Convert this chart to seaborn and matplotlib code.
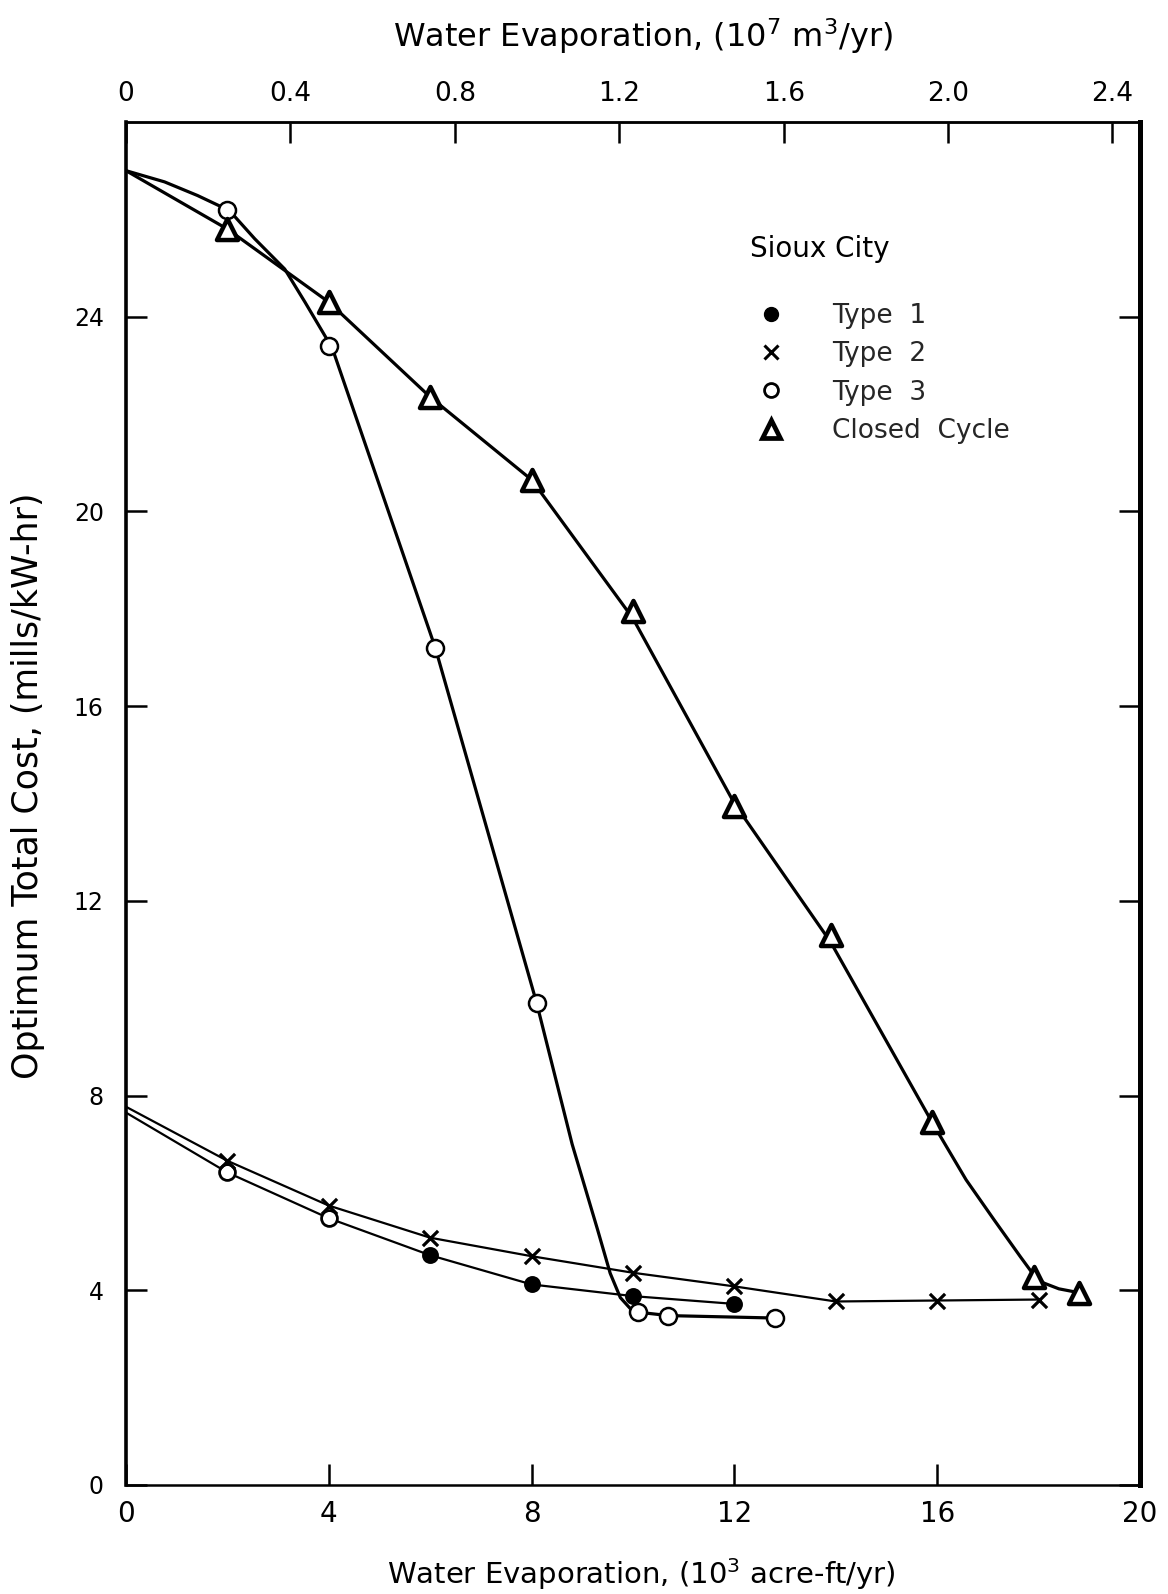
import matplotlib
matplotlib.use("Agg")
import matplotlib.pyplot as plt
from matplotlib.lines import Line2D
import seaborn as sns

# Water evaporation (10^3 acre-ft/yr) and optimum total cost (mills/kW-hr), Sioux City
# Plotted design points
type1_x = [2.0, 4.0, 6.0, 8.0, 10.0, 12.0]
type1_y = [6.42, 5.48, 4.72, 4.12, 3.88, 3.72]
type2_x = [2.0, 4.0, 6.0, 8.0, 10.0, 12.0, 14.0, 16.0, 18.0]
type2_y = [6.66, 5.74, 5.08, 4.70, 4.36, 4.08, 3.77, 3.79, 3.81]
type3_x = [2.0, 4.0, 6.1, 8.1, 10.1, 10.7, 12.8]
type3_y = [26.2, 23.4, 17.2, 9.9, 3.55, 3.48, 3.43]
closed_x = [2.0, 4.0, 6.0, 8.0, 10.0, 12.0, 13.9, 15.9, 17.9, 18.8]
closed_y = [25.8, 24.3, 22.35, 20.65, 17.95, 13.95, 11.3, 7.45, 4.28, 3.95]

# Faired curves through the design points
type1_curve_x = [0.0, 2.0, 4.0, 6.0, 8.0, 10.0, 12.0]
type1_curve_y = [7.65, 6.42, 5.48, 4.72, 4.12, 3.88, 3.72]
type2_curve_x = [0.0, 2.0, 4.0, 6.0, 8.0, 10.0, 12.0, 14.0, 16.0, 18.0]
type2_curve_y = [7.77, 6.66, 5.74, 5.08, 4.70, 4.36, 4.08, 3.77, 3.79, 3.81]
type3_curve_x = [0.0, 0.76, 1.41, 2.04, 2.54, 3.13, 3.53, 4.07, 6.1, 8.1, 8.8, 9.3,
                 9.55, 9.75, 9.95, 10.1, 10.7, 12.8]
type3_curve_y = [27.0, 26.77, 26.49, 26.18, 25.6, 24.98, 24.3, 23.35, 17.2, 9.9, 7.0, 5.25,
                 4.35, 3.85, 3.62, 3.55, 3.48, 3.43]
closed_curve_x = [0.0, 2.0, 4.0, 6.0, 8.0, 10.0, 12.0, 13.9, 15.9, 16.57, 17.12, 17.64,
                  17.9, 18.1, 18.4, 18.8]
closed_curve_y = [27.0, 25.8, 24.3, 22.35, 20.65, 17.8, 14.0, 11.15, 7.45, 6.27, 5.45, 4.69,
                  4.32, 4.15, 4.03, 3.95]

# Axis ticks
x_ticks = [0, 4, 8, 12, 16, 20]
y_ticks = [0, 4, 8, 12, 16, 20, 24]
top_ticks = [0, 0.4, 0.8, 1.2, 1.6, 2.0, 2.4]
top_labels = ["0", "0.4", "0.8", "1.2", "1.6", "2.0", "2.4"]

# Type 1 symbols that print as open rings
type1_hollow = [True, True, False, False, False, False]

ACRE_FT_M3 = 1233.48  # cubic metres per acre-foot


def to_m3(x):
    return x * ACRE_FT_M3 / 1e4


def to_acreft(v):
    return v * 1e4 / ACRE_FT_M3


sns.set_style("white")
plt.rcParams['font.family'] = ['DejaVu Sans']
plt.rcParams['mathtext.fontset'] = 'dejavusans'

W, H = 1168, 1594
fig = plt.figure(figsize=(W / 100, H / 100), dpi=100)
left, right, top, bottom = 126, 1140, 122, 1485
ax = fig.add_axes([left / W, (H - bottom) / H, (right - left) / W, (bottom - top) / H])

ink = "black"

# curves
for cx, cy, lw in [(type1_curve_x, type1_curve_y, 1.6),
                   (type2_curve_x, type2_curve_y, 1.6),
                   (type3_curve_x, type3_curve_y, 2.3),
                   (closed_curve_x, closed_curve_y, 2.3)]:
    sns.lineplot(x=cx, y=cy, sort=False, estimator=None, color=ink, lw=lw, ax=ax, zorder=2)

# symbols
t1_open = [i for i, h in enumerate(type1_hollow) if h]
t1_full = [i for i, h in enumerate(type1_hollow) if not h]
sns.scatterplot(x=[type1_x[i] for i in t1_full], y=[type1_y[i] for i in t1_full],
                marker="o", s=120, color=ink, edgecolor=ink, linewidth=1.2, ax=ax, zorder=4)
sns.scatterplot(x=[type1_x[i] for i in t1_open], y=[type1_y[i] for i in t1_open],
                marker="o", s=130, facecolor="white", edgecolor=ink, linewidth=2.0, ax=ax, zorder=4)
sns.scatterplot(x=type2_x, y=type2_y, marker="x", s=120, color=ink, linewidth=2.3, ax=ax, zorder=4)
sns.scatterplot(x=type3_x, y=type3_y, marker="o", s=150, facecolor="white", edgecolor=ink,
                linewidth=1.8, ax=ax, zorder=4)
sns.scatterplot(x=closed_x, y=closed_y, marker="^", s=230, facecolor="white", edgecolor=ink,
                linewidth=3.2, ax=ax, zorder=4)

ax.set_xlim(0, 20)
ax.set_ylim(0, 28)
ax.set_xticks(x_ticks)
ax.set_xticklabels([str(t) for t in x_ticks])
ax.set_yticks(y_ticks)
ax.set_yticklabels([str(t) for t in y_ticks])

for side, w in [("left", 2.6), ("right", 3.6), ("top", 1.8), ("bottom", 1.8)]:
    ax.spines[side].set_visible(True)
    ax.spines[side].set_color(ink)
    ax.spines[side].set_linewidth(w)

ax.tick_params(axis="x", which="both", direction="in", length=15, width=1.8,
               top=False, bottom=True, labelsize=20, pad=11, colors=ink)
ax.tick_params(axis="y", which="both", direction="in", length=15, width=1.8,
               left=True, right=True, labelright=False, labelsize=17, pad=16, colors=ink)

ax.set_xlabel("Water Evaporation, (10$^3$ acre-ft/yr)", fontsize=21, labelpad=20, color=ink)
ax.xaxis.set_label_coords(0.508, -0.052)
ax.set_ylabel("Optimum Total Cost, (mills/kW-hr)", fontsize=25, color=ink)
ax.yaxis.set_label_coords(-0.080, 0.513)

secax = ax.secondary_xaxis("top", functions=(to_m3, to_acreft))
secax.set_xticks(top_ticks)
secax.set_xticklabels(top_labels)
secax.tick_params(direction="in", length=15, width=1.8, labelsize=19, pad=11, colors=ink)
secax.spines["top"].set_linewidth(1.8)
secax.set_xlabel("Water Evaporation, (10$^7$ m$^3$/yr)", fontsize=23, labelpad=24, color=ink)
secax.xaxis.label.set_x(0.51)

# legend
ax.text(0.615, 0.907, "Sioux City", transform=ax.transAxes, fontsize=20,
        ha="left", va="center", color=ink)
handles = [
    Line2D([], [], linestyle="none", marker="o", markersize=10, color=ink),
    Line2D([], [], linestyle="none", marker="x", markersize=10, markeredgewidth=2.2, color=ink),
    Line2D([], [], linestyle="none", marker="o", markersize=10, markerfacecolor="white",
           markeredgecolor=ink, markeredgewidth=2),
    Line2D([], [], linestyle="none", marker="^", markersize=13, markerfacecolor="white",
           markeredgecolor=ink, markeredgewidth=3.4),
]
labels = ["Type  1", "Type  2", "Type  3", "Closed  Cycle"]
ax.legend(handles, labels, loc="upper left", bbox_to_anchor=(0.597, 0.877), frameon=False,
          fontsize=19, handlelength=2.0, handletextpad=1.3, labelspacing=0.47, borderpad=0)

fig.savefig("out.png", dpi=100, facecolor="white")
